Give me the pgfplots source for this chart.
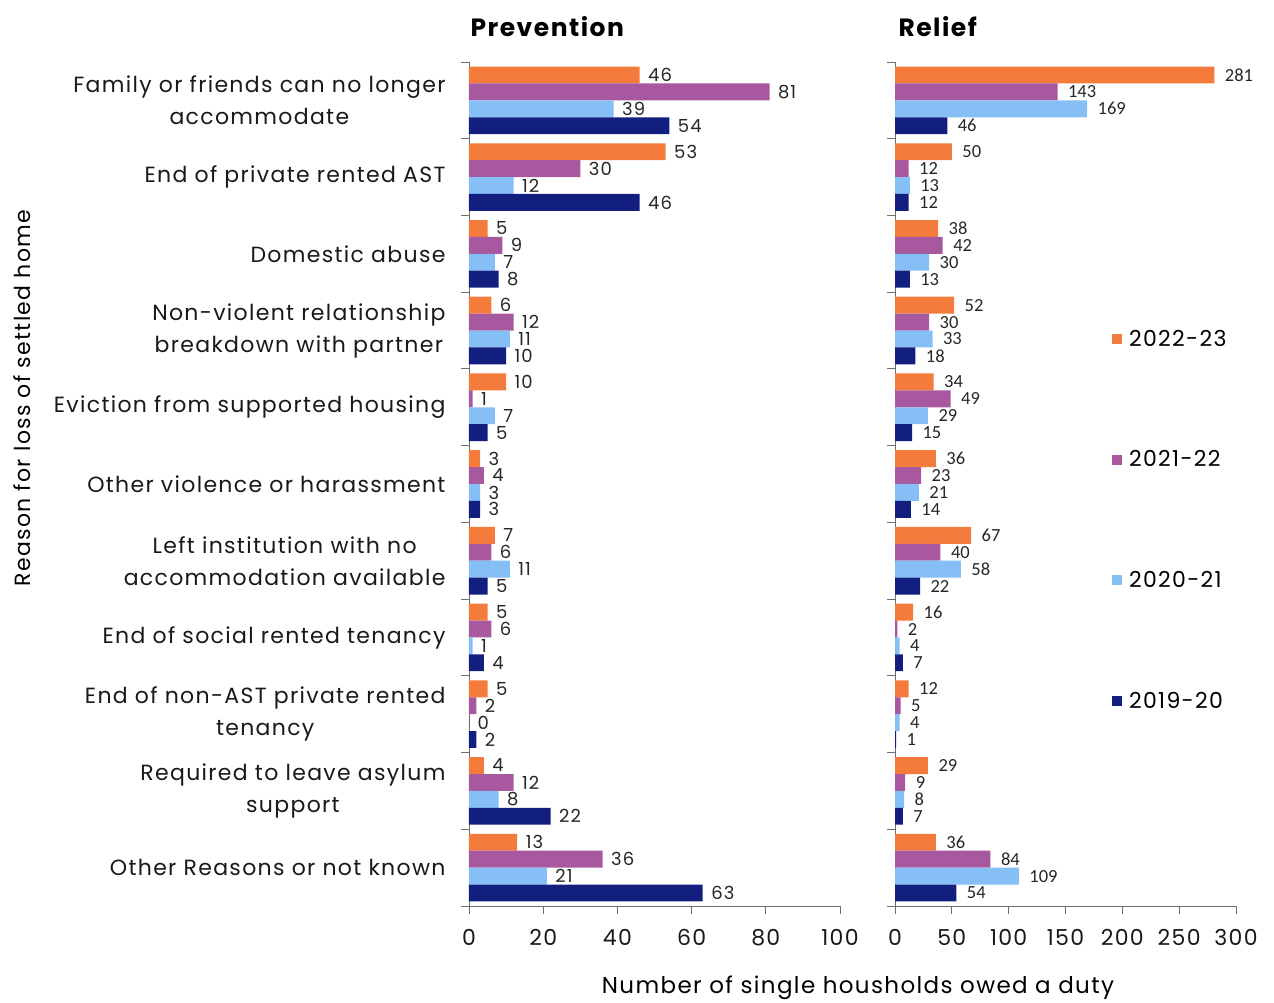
\documentclass[border=0pt]{standalone}
\usepackage{pgfplots}
\pgfplotsset{compat=1.18}
\usepackage{fontspec}
\setmainfont{Poppins}[LetterSpace=6]
\newfontfamily\carlito{Carlito}
\definecolor{corange}{RGB}{244,123,59}
\definecolor{cpurple}{RGB}{167,88,158}
\definecolor{clblue}{RGB}{133,191,245}
\definecolor{cnavy}{RGB}{18,31,126}
\definecolor{axgray}{RGB}{110,110,110}
\pgfplotsset{
  mybar/.style={fill=#1, draw=none,
    legend image code/.code={\fill[fill=#1] (0pt,-5pt) rectangle (10pt,5pt);}},
  base/.style={
    scale only axis, height=844pt, xbar, bar width=16.9pt,
    ymin=-0.5, ymax=10.5, xmin=0,
    axis x line*=bottom, axis y line*=left,
    axis line style={draw=axgray, line width=0.9pt},
    tick style={draw=axgray, line width=0.9pt},
    tick align=outside,
    major tick length=0pt, minor tick length=8pt,
    ytick={0,...,10}, minor ytick={-0.5,0.5,...,10.5},
    /pgf/number format/assume math mode=true,
    ticklabel style={font=\fontsize{22}{32}\selectfont, text=black!90},
    xticklabel style={yshift=-20pt},
    clip=false, point meta=x, nodes near coords,
  },
}
\begin{document}
\begin{tikzpicture}
\path[use as bounding box] (-469pt,-97pt) rectangle (805pt,906pt);
\begin{axis}[base, width=371pt, xmax=100,
  xtick={0,20,...,100}, minor xtick={0,20,...,100},
  yticklabel style={align=center, xshift=-20pt},
  yticklabels={Other Reasons or not known,{Required to leave asylum\\support},{End of non-AST private rented\\tenancy},End of social rented tenancy,{Left institution with no\\accommodation available},Other violence or harassment,Eviction from supported housing,{Non-violent relationship\\breakdown with partner},Domestic abuse,End of private rented AST,{Family or friends can no longer\\accommodate}},
  every node near coord/.append style={font=\fontsize{18}{20}\selectfont, text=black!85, xshift=5pt},
]
\addplot[mybar=corange, bar shift=25.35pt] coordinates {(46,10) (53,9) (5,8) (6,7) (10,6) (3,5) (7,4) (5,3) (5,2) (4,1) (13,0)};
\addplot[mybar=cpurple, bar shift=8.45pt] coordinates {(81,10) (30,9) (9,8) (12,7) (1,6) (4,5) (6,4) (6,3) (2,2) (12,1) (36,0)};
\addplot[mybar=clblue, bar shift=-8.45pt] coordinates {(39,10) (12,9) (7,8) (11,7) (7,6) (3,5) (11,4) (1,3) (0,2) (8,1) (21,0)};
\addplot[mybar=cnavy, bar shift=-25.35pt] coordinates {(54,10) (46,9) (8,8) (10,7) (5,6) (3,5) (5,4) (4,3) (2,2) (22,1) (63,0)};
\end{axis}
\begin{axis}[base, at={(426pt,0pt)}, anchor=south west, width=341pt, xmax=300,
  xtick={0,50,...,300}, minor xtick={0,50,...,300},
  yticklabels={},
  every node near coord/.append style={font=\carlito\fontsize{18.5}{20}\selectfont, text=black!85, xshift=7pt},
  legend style={draw=none, fill=none, at={(0.636,0.685)}, anchor=north west,
    font=\fontsize{22}{26}\selectfont, row sep=99pt, inner sep=0pt,
    /tikz/every odd column/.append style={column sep=5pt}},
  legend cell align=left,
]
\addplot[mybar=corange, bar shift=25.35pt] coordinates {(281,10) (50,9) (38,8) (52,7) (34,6) (36,5) (67,4) (16,3) (12,2) (29,1) (36,0)};
\addplot[mybar=cpurple, bar shift=8.45pt] coordinates {(143,10) (12,9) (42,8) (30,7) (49,6) (23,5) (40,4) (2,3) (5,2) (9,1) (84,0)};
\addplot[mybar=clblue, bar shift=-8.45pt] coordinates {(169,10) (13,9) (30,8) (33,7) (29,6) (21,5) (58,4) (4,3) (4,2) (8,1) (109,0)};
\addplot[mybar=cnavy, bar shift=-25.35pt] coordinates {(46,10) (12,9) (13,8) (18,7) (15,6) (14,5) (22,4) (7,3) (1,2) (7,1) (54,0)};
\legend{2022-23,2021-22,2020-21,2019-20}
\end{axis}
\node[anchor=west, font=\bfseries\fontsize{25}{30}\selectfont] at (-2pt,879pt) {Prevention};
\node[anchor=west, font=\bfseries\fontsize{25}{30}\selectfont] at (426pt,879pt) {Relief};
\node[rotate=90, font=\fontsize{22}{26}\selectfont] at (-447pt,508pt) {Reason for loss of settled home};
\node[font=\fontsize{23}{26}\selectfont] at (389pt,-82pt) {Number of single housholds owed a duty};
\end{tikzpicture}
\end{document}
